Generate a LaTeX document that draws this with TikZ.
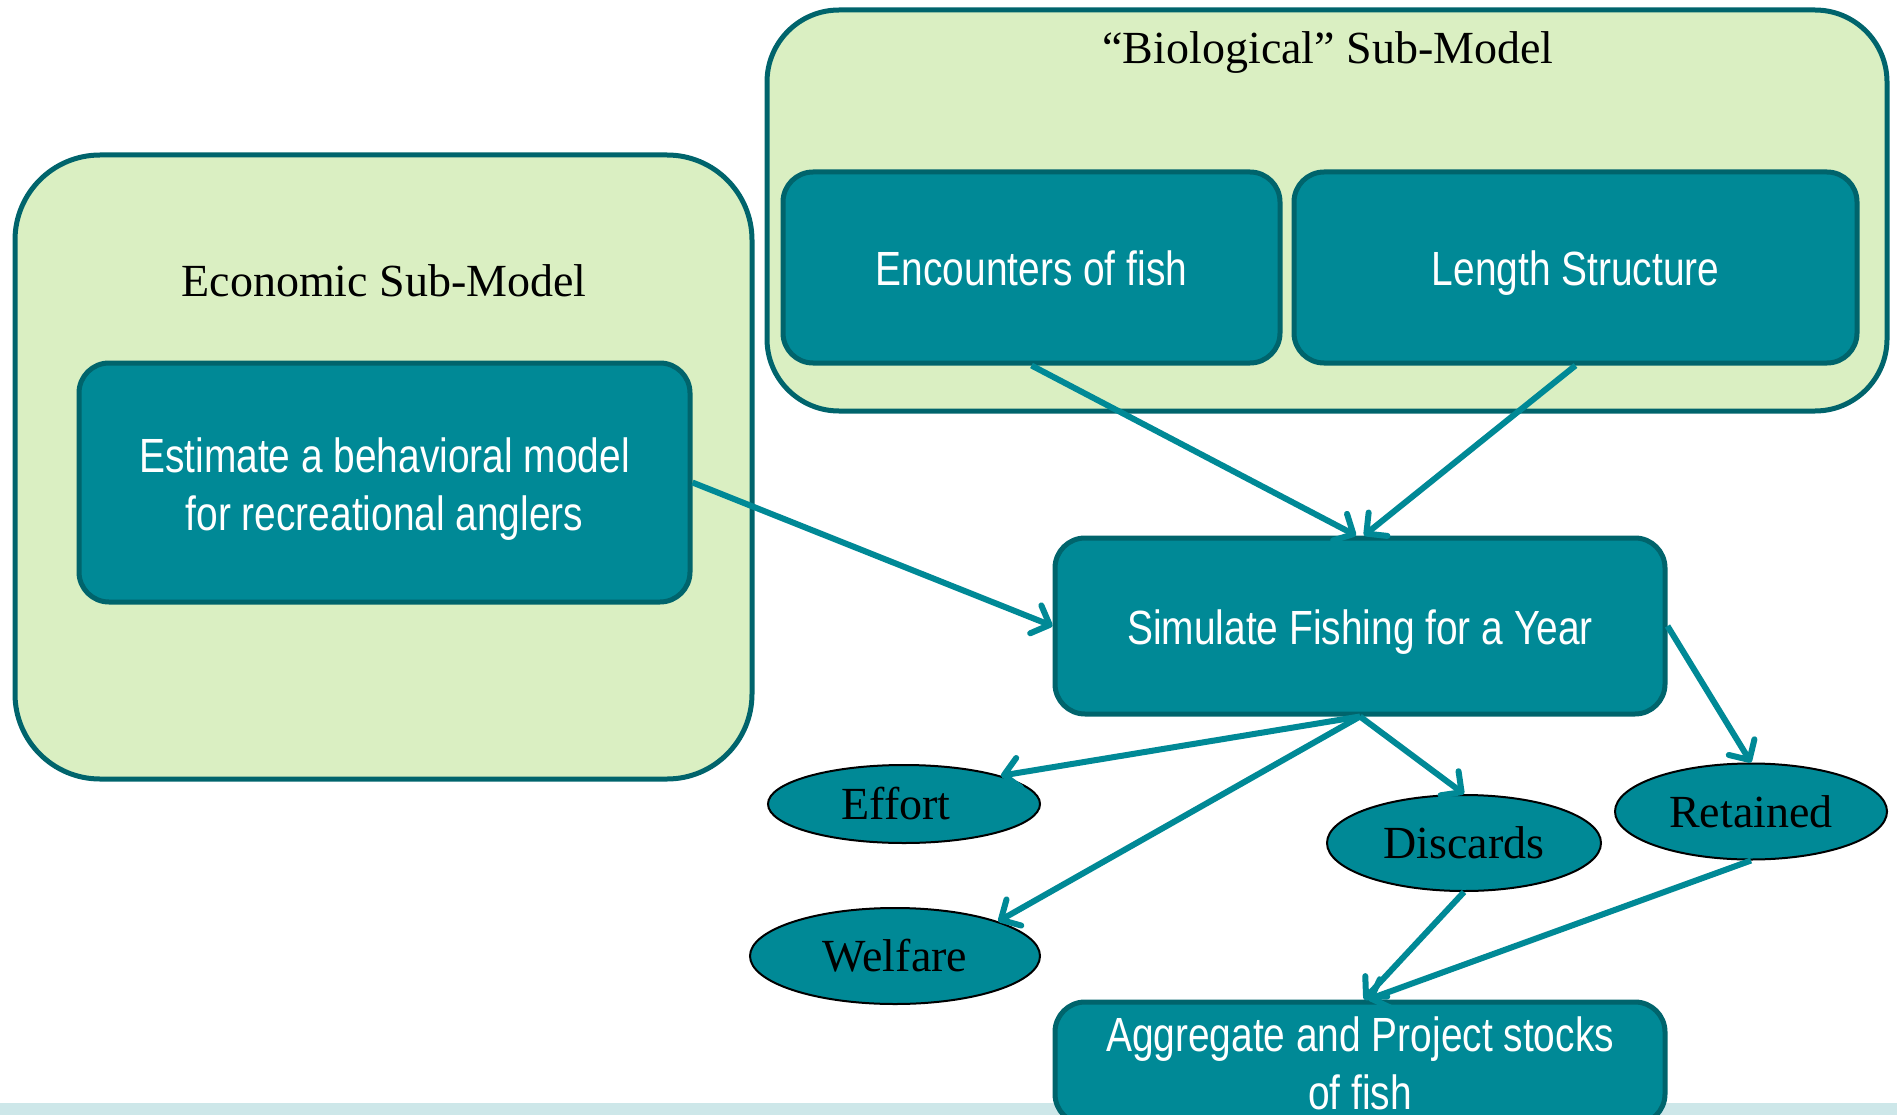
\documentclass[tikz,border=0pt]{standalone}
\usepackage{fontspec}
\setmainfont{Liberation Serif}
\newfontfamily\boxfont[FakeStretch=0.81]{Liberation Sans}
\usetikzlibrary{arrows.meta,shapes.geometric}
\definecolor{tealfill}{HTML}{008996}
\definecolor{tealdark}{HTML}{00646C}
\definecolor{greenfill}{HTML}{DAEFC2}
\definecolor{stripcol}{HTML}{CDE7E9}
\begin{document}
\begin{tikzpicture}[x=1pt,y=-1pt,
  container/.style={draw=tealdark, line width=5pt, fill=greenfill, rounded corners=#1, inner sep=0pt},
  tealbox/.style={draw=tealdark, line width=5pt, fill=tealfill, rounded corners=30pt, inner sep=0pt,
    text=white, align=center, font=\boxfont\fontsize{48}{58}\selectfont},
  oneline/.style={tealbox,
    execute at begin node={\rule[-12pt]{0pt}{60.4pt}},
    execute at end node={\rule[-12pt]{0pt}{60.4pt}}},
  oval/.style={ellipse, draw=black, line width=2pt, fill=tealfill, inner sep=0pt,
    text=black, font=\fontsize{46}{55}\selectfont},
  title/.style={font=\fontsize{46}{55}\selectfont, text=black, inner sep=0pt},
  arr/.style={draw=tealfill, line width=6pt, -{Straight Barb[length=15pt,width=30pt,round]}}
]
\useasboundingbox (0,0) rectangle (1897,1115);
\fill[white] (0,0) rectangle (1897,1115);

% containers
\node[container=85pt, minimum width=737pt, minimum height=624pt] (econ) at (383.5,467) {};
\node[container=72pt, minimum width=1120pt, minimum height=401pt] (bio) at (1327,210.5) {};
\node[title] (econtitle) at (384,281) {Economic Sub-Model};
\node[title] (biotitle) at (1328,53) {“Biological” Sub-Model};

% boxes
\node[tealbox, minimum width=611pt, minimum height=239pt] (est) at (384.5,482.5)
  {\rule{0pt}{47pt}Estimate a behavioral model\\for recreational anglers};
\node[oneline, minimum width=497pt, minimum height=191pt] (enc) at (1031.5,267.5) {Encounters of fish};
\node[oneline, minimum width=563pt, minimum height=191pt] (len) at (1575.5,267.5) {Length Structure};
\node[oneline, minimum width=610pt, minimum height=176pt] (sim) at (1360,626) {Simulate Fishing for a Year};

% bottom strip
\fill[stripcol] (0,1103) rectangle (1897,1115);
\node[tealbox, minimum width=610pt, minimum height=122pt] (agg) at (1360,1063)
  {Aggregate and Project stocks\\of fish};

% ellipses
\node[oval, minimum width=272pt, minimum height=78pt] (eff) at (904,804) {\hspace*{-16pt}Effort};
\node[oval, minimum width=290pt, minimum height=96pt] (wel) at (895,956) {Welfare};
\node[oval, minimum width=274pt, minimum height=96pt] (dis) at (1464,843) {Discards};
\node[oval, minimum width=272pt, minimum height=96pt] (ret) at (1751,811.5) {Retained};

% connectors
\draw[arr] (est.east) -- (sim.west);
\draw[arr] (enc.south) -- ([xshift=-4pt]sim.north);
\draw[arr] (len.south) -- ([xshift=4pt]sim.north);
\draw[arr] (sim.south) -- (eff.north east);
\draw[arr] (sim.south) -- (wel.north east);
\draw[arr] (sim.south) -- (dis.north);
\draw[arr] (sim.east) -- (ret.north);
\draw[arr] (dis.south) -- ([xshift=4pt]agg.north);
\draw[arr] (ret.south) -- ([xshift=8pt]agg.north);
\end{tikzpicture}
\end{document}
